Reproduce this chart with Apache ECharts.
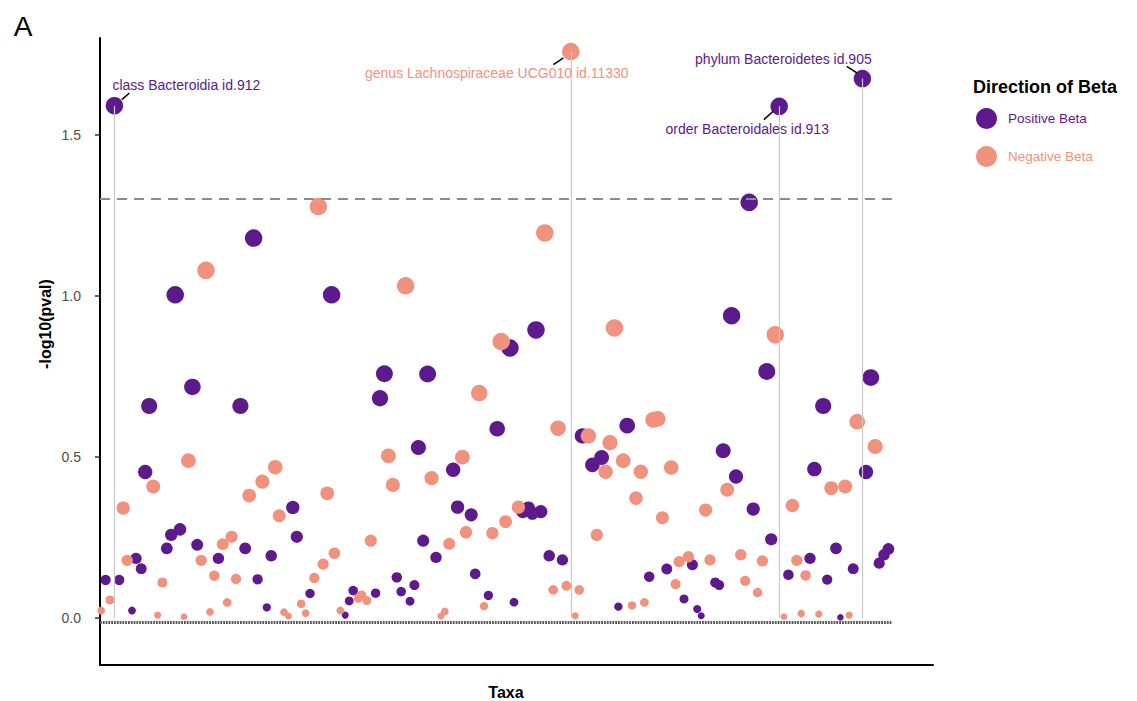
<!DOCTYPE html>
<html><head><meta charset="utf-8">
<script src="https://cdn.jsdelivr.net/npm/echarts@6/dist/echarts.min.js"></script>
<style>html,body{margin:0;padding:0;background:#fff}#c{width:1137px;height:701px}</style>
</head><body><div id="c"></div>
<script>
// ---- data (taxon position, -log10(pval)) ----
const posX = [3.6,190.6,169.8,162.3,38.4,18.8,57.9,157.9,109.0,102.5,71.1,81.9,166.7,192.7,23.1,70.0,12.3,35.1,180.8,131.8,99.3,120.6,79.6,155.8,125.4,123.1,88.3,178.6,191.5,11.3,159.0,48.2,89.4,163.3,92.8,105.7,107.1,108.1,110.2,20.0,17.8,49.2,167.8,80.8,16.7,36.3,184.0,197.1,24.3,42.8,112.3,196.0,29.6,9.0,177.5,84.0,115.6,194.8,148.1,10.3,141.7,188.3,93.8,172.1,137.3,74.2,1.4,4.8,39.4,181.8,153.8,154.8,78.6,63.3,75.3,52.5,68.9,97.1,146.0,62.3,77.5,103.5,41.7,129.6,8.0,149.3,61.3,150.3,185.1];
const posY = [1.590,1.674,1.588,1.290,1.179,1.003,1.003,0.938,0.894,0.838,0.758,0.757,0.765,0.746,0.717,0.682,0.658,0.658,0.658,0.597,0.587,0.565,0.529,0.519,0.498,0.475,0.460,0.462,0.453,0.453,0.439,0.343,0.344,0.338,0.320,0.330,0.341,0.325,0.330,0.275,0.258,0.252,0.244,0.240,0.216,0.216,0.216,0.214,0.227,0.193,0.193,0.196,0.185,0.185,0.185,0.188,0.180,0.170,0.165,0.153,0.152,0.153,0.137,0.134,0.128,0.126,0.118,0.118,0.120,0.119,0.110,0.102,0.102,0.085,0.082,0.076,0.077,0.070,0.059,0.053,0.052,0.049,0.033,0.035,0.023,0.028,0.009,0.007,0.002];
const negX = [117.7,54.6,111.2,26.5,76.4,128.6,168.8,100.3,94.8,138.3,139.4,189.3,114.5,122.1,127.5,193.8,72.1,90.6,22.1,130.8,43.8,142.8,126.4,135.2,82.9,40.6,73.2,13.3,186.3,182.8,156.8,56.8,37.3,134.0,5.8,104.6,173.1,151.4,44.8,140.6,101.4,91.5,98.1,124.2,32.9,67.7,30.7,87.3,58.6,160.2,147.1,144.8,152.5,165.6,174.2,6.8,25.3,55.8,28.6,53.6,34.0,176.4,15.6,161.3,116.6,143.9,113.3,119.8,164.4,64.6,65.4,66.7,2.5,31.8,50.3,136.1,133.0,96.0,0.3,60.1,27.5,46.0,86.2,51.4,175.3,179.7,14.4,187.3,47.1,85.2,118.8,21.0,171.0];
const negY = [1.758,1.277,1.195,1.079,1.031,0.900,0.879,0.858,0.698,0.615,0.618,0.609,0.589,0.565,0.544,0.532,0.503,0.499,0.488,0.488,0.468,0.467,0.454,0.454,0.434,0.423,0.413,0.408,0.408,0.403,0.398,0.387,0.380,0.372,0.341,0.344,0.349,0.335,0.317,0.311,0.299,0.266,0.263,0.258,0.252,0.240,0.229,0.230,0.201,0.196,0.190,0.175,0.180,0.177,0.179,0.179,0.179,0.167,0.131,0.124,0.121,0.132,0.110,0.115,0.100,0.105,0.087,0.087,0.079,0.061,0.071,0.054,0.056,0.048,0.044,0.048,0.039,0.037,0.023,0.023,0.019,0.018,0.020,0.015,0.014,0.012,0.009,0.009,0.006,0.006,0.007,0.004,0.004];
const yTicks = [0, 0.5, 1.0, 1.5];
const sigThreshold = 1.301;   // -log10(0.05)
const baseline = -0.012;
const taxaRange = [0, 198];
const seriesNames = ['Positive Beta', 'Negative Beta'];
const annotations = [
  {text:'class Bacteroidia id.912', group:'pos', i:0},
  {text:'phylum Bacteroidetes id.905', group:'pos', i:1},
  {text:'order Bacteroidales id.913', group:'pos', i:2},
  {text:'genus Lachnospiraceae UCG010 id.11330', group:'neg', i:0}
];

// ---- styling / layout ----
const PURPLE = '#5d1a8c', PINK = '#f0927e';
const FONT = "'Liberation Sans', Arial, Helvetica, sans-serif";
const annotLayout = {
  'class Bacteroidia id.912': {tx:-2, ty:-21, align:'left', l:[7.4,-6,15,-12.7]},
  'phylum Bacteroidetes id.905': {tx:-79, ty:-20, align:'center', l:[-5.6,-5.7,-15.6,-12.3]},
  'order Bacteroidales id.913': {tx:-32, ty:22.6, align:'center', l:[-6,5,-15.3,13.3]},
  'genus Lachnospiraceae UCG010 id.11330': {tx:-74, ty:21, align:'center', l:[-7.4,6.3,-17.4,13]}
};
const sizeOf = v => Math.min(17.5, 6 + 12.5 * Math.sqrt(Math.max(v[1], 0)));
const toPts = (xs, ys) => xs.map((x, i) => [x, ys[i]]);
const getXY = a => a.group === 'pos' ? [posX[a.i], posY[a.i]] : [negX[a.i], negY[a.i]];

const chart = echarts.init(document.getElementById('c'), null, {renderer: 'svg'});
const option = {
  animation: false,
  backgroundColor: '#fff',
  grid: {left: 100, right: 204, top: 38, bottom: 36},
  xAxis: {
    type: 'value', min: 0, max: 208.25,
    axisLine: {show: true, onZero: false, lineStyle: {color: '#000', width: 2}},
    axisTick: {show: false}, axisLabel: {show: false}, splitLine: {show: false}
  },
  yAxis: {
    type: 'value', min: -0.146, max: 1.80,
    axisLine: {show: true, lineStyle: {color: '#000', width: 2}},
    axisTick: {show: true, length: 5, customValues: yTicks, lineStyle: {color: '#333', width: 1.5}},
    axisLabel: {customValues: yTicks, formatter: v => Number(v).toFixed(1), color: '#4d4d4d', fontSize: 14, fontFamily: FONT, margin: 19},
    splitLine: {show: false}
  },
  legend: {
    data: [
      {name: seriesNames[0], textStyle: {color: PURPLE}},
      {name: seriesNames[1], textStyle: {color: PINK}}
    ],
    orient: 'vertical', left: 971, top: 103, icon: 'circle',
    itemWidth: 21, itemHeight: 21, itemGap: 17,
    textStyle: {fontSize: 13.5, fontFamily: FONT, padding: [0, 0, 0, 6]}
  },
  series: [
    {
      type: 'scatter', name: 'guides', data: [], z: 1, silent: true,
      markLine: {
        silent: true, symbol: 'none', label: {show: false},
        lineStyle: {color: '#c8c8c8', width: 1.2, type: 'solid'},
        data: annotations.map(a => { const p = getXY(a); return [{coord: [p[0], p[1]]}, {coord: [p[0], 0]}]; })
      }
    },
    {
      type: 'scatter', name: seriesNames[0], data: toPts(posX, posY), z: 3,
      symbolSize: sizeOf, itemStyle: {color: PURPLE, opacity: 1}
    },
    {
      type: 'scatter', name: seriesNames[1], data: toPts(negX, negY), z: 3,
      symbolSize: sizeOf, itemStyle: {color: PINK, opacity: 1}
    },
    {
      type: 'scatter', name: 'refs', data: [], z: 5, silent: true,
      markLine: {
        silent: true, symbol: 'none', label: {show: false},
        data: [
          [{coord: [taxaRange[0], sigThreshold], lineStyle: {color: '#8c8c8c', width: 2, type: [10, 7]}},
           {coord: [taxaRange[1], sigThreshold]}],
          [{coord: [taxaRange[0], baseline], lineStyle: {color: '#555', width: 3, type: [1.8, 1]}},
           {coord: [taxaRange[1], baseline]}]
        ]
      }
    }
  ]
};
chart.setOption(option);

const g = [];
annotations.forEach(a => {
  const p = chart.convertToPixel({gridIndex: 0}, getXY(a));
  const L = annotLayout[a.text];
  const col = a.group === 'pos' ? PURPLE : PINK;
  g.push({type: 'line', z: 10, shape: {x1: p[0] + L.l[0], y1: p[1] + L.l[1], x2: p[0] + L.l[2], y2: p[1] + L.l[3]},
          style: {stroke: '#000', lineWidth: 1.5}});
  g.push({type: 'text', z: 10, x: p[0] + L.tx, y: p[1] + L.ty,
          style: {text: a.text, fill: col, font: '14px ' + FONT, align: L.align, verticalAlign: 'middle', textAlign: L.align, textVerticalAlign: 'middle'}});
});
g.push({type: 'text', x: 23, y: 26, style: {text: 'A', fill: '#000', font: '28px ' + FONT, align: 'center', verticalAlign: 'middle', textAlign: 'center', textVerticalAlign: 'middle'}});
g.push({type: 'text', x: 506, y: 692, style: {text: 'Taxa', fill: '#000', font: 'bold 16px ' + FONT, align: 'center', verticalAlign: 'middle', textAlign: 'center', textVerticalAlign: 'middle'}});
g.push({type: 'text', x: 45, y: 324, rotation: Math.PI / 2, style: {text: '-log10(pval)', fill: '#000', font: 'bold 16px ' + FONT, align: 'center', verticalAlign: 'middle', textAlign: 'center', textVerticalAlign: 'middle'}});
g.push({type: 'text', x: 973, y: 87, style: {text: 'Direction of Beta', fill: '#000', font: 'bold 18px ' + FONT, align: 'left', verticalAlign: 'middle', textAlign: 'left', textVerticalAlign: 'middle'}});
chart.setOption({graphic: {elements: g}});
</script>
</body></html>
